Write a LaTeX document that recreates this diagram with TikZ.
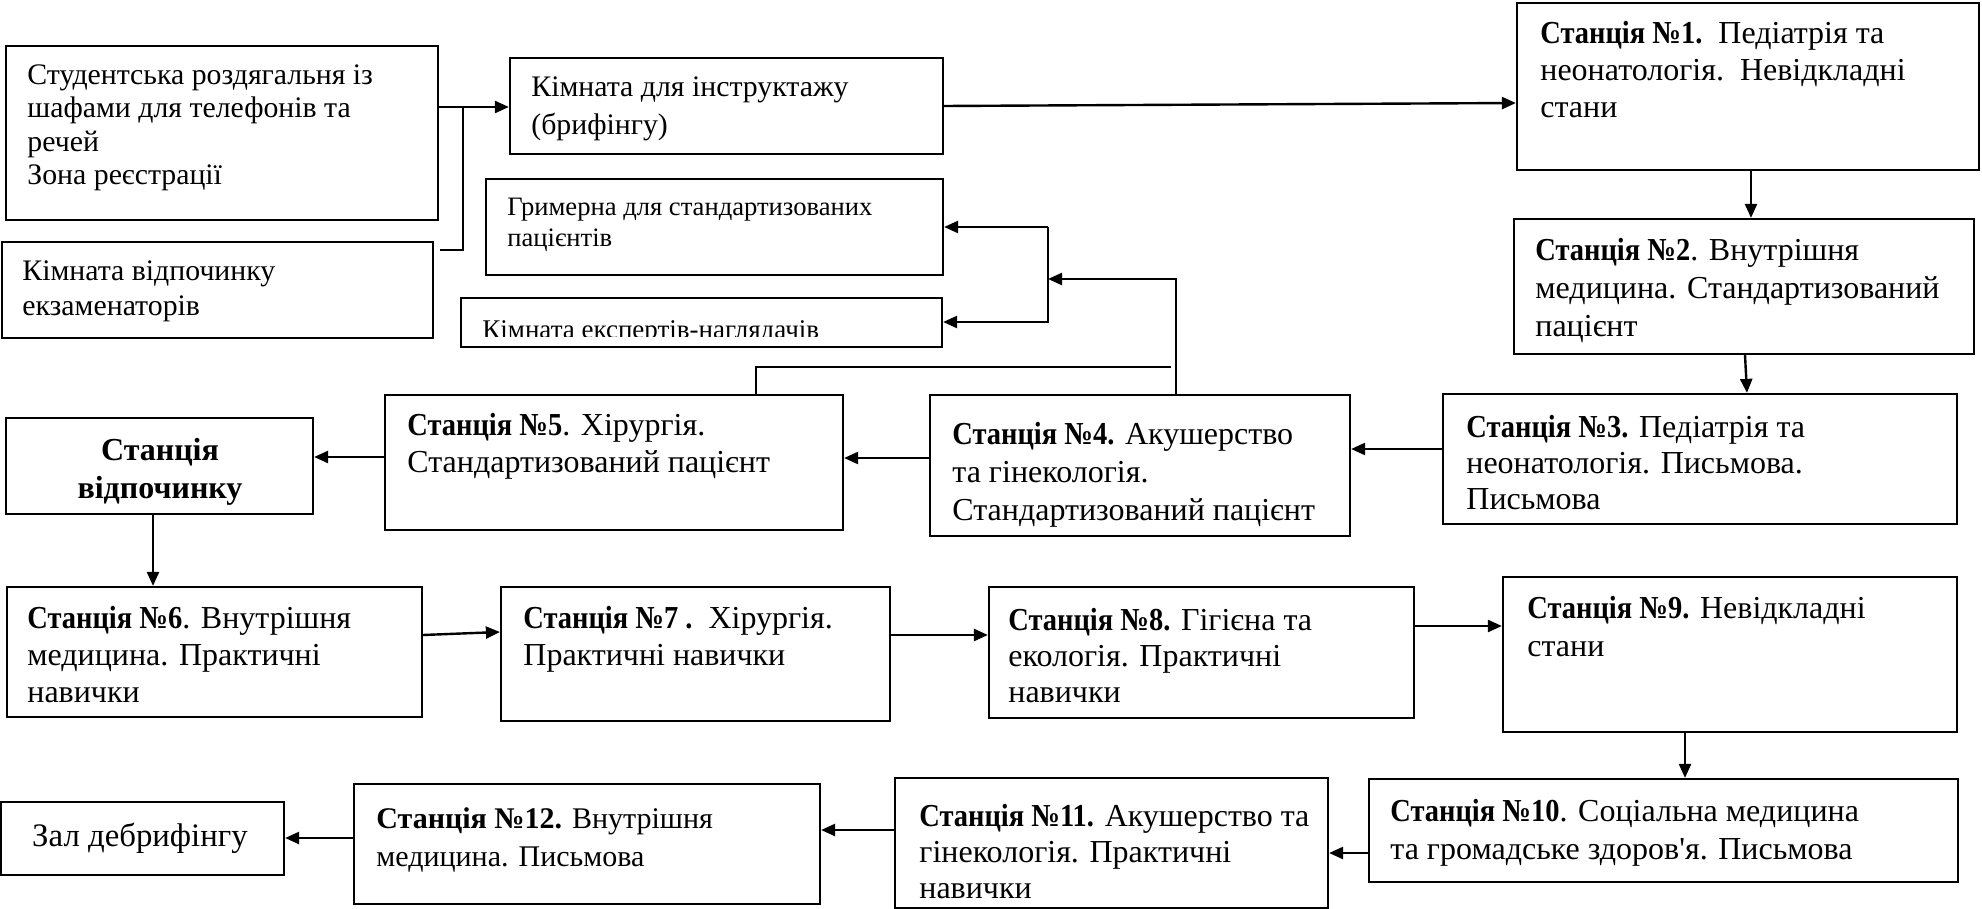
\documentclass[tikz,border=0pt]{standalone}
\usepackage{fontspec}
\setmainfont{Liberation Serif}
\newfontfamily\nbf[FakeStretch=0.89]{Liberation Serif}
\newfontfamily\aposf{Liberation Serif}
\usetikzlibrary{arrows.meta,fit}
\newcommand{\myst}{\rule{0pt}{12pt}}
\newcommand{\stb}[1]{{\nbf\bfseries #1}}
\tikzset{
  box/.style={draw, line width=1.1pt, inner sep=0pt},
  arr/.style={line width=1.2pt, -{Triangle[length=7pt,width=6pt]}},
  ln/.style={line width=1.2pt},
  txt/.style args={#1/#2}{anchor=north west, inner sep=0pt, align=left, font=\fontsize{#1}{#2}\selectfont},
  ctxt/.style args={#1/#2}{anchor=north, inner sep=0pt, align=center, font=\fontsize{#1}{#2}\selectfont}
}
\begin{document}
\begin{tikzpicture}[x=0.5pt,y=-0.5pt]
\useasboundingbox (0,0) rectangle (1982,909);
% top-left rooms
\node[box, fit={(6,46)(438,220)}] (a) {};
\node[txt={14.9pt/16.75pt}] (ta) at (27,60) {\myst Студентська роздягальня із\\шафами для телефонів та\\речей\\Зона реєстрації};
\node[box, fit={(2,242)(433,338)}] (b) {};
\node[txt={14.9pt/17.5pt}] (tb) at (22,256) {\myst Кімната відпочинку\\екзаменаторів};
\node[box, fit={(510,58)(943,154)}] (c) {};
\node[txt={14.9pt/19pt}] (tc) at (531,72) {\myst Кімната для інструктажу\\(брифінгу)};
\node[box, fit={(486,179)(943,275)}] (d) {};
\node[txt={13.3pt/15.5pt}] (td) at (507,191) {\myst Гримерна для стандартизованих\\пацієнтів};
\node[box, fit={(461,298)(942,347)}] (e) {};
\begin{scope}
\clip (461,298) rectangle (942,337);
\node[txt={13.5pt/15.5pt}] (te) at (482,314) {\myst Кімната експертів-наглядачів};
\end{scope}
% stations
\node[box, fit={(1517,3)(1979,170)}] (s1) {};
\node[txt={16pt/18.5pt}] (t1) at (1540,19) {\myst\stb{Станція №1.}\ \ Педіатрія та\\неонатологія.\ \ Невідкладні\\стани};
\node[box, fit={(1514,219)(1974,354)}] (s2) {};
\node[txt={16pt/19pt}] (t2) at (1535,236) {\myst\stb{Станція №2}. Внутрішня\\медицина. Стандартизований\\пацієнт};
\node[box, fit={(1443,394)(1957,524)}] (s3) {};
\node[txt={16pt/18pt}] (t3) at (1466,413) {\myst\stb{Станція №3.} Педіатрія та\\неонатологія. Письмова.\\Письмова};
\node[box, fit={(930,395)(1350,536)}] (s4) {};
\node[txt={16pt/19pt}] (t4) at (952,420) {\myst\stb{Станція №4.} Акушерство\\та гінекологія.\\Стандартизований пацієнт};
\node[box, fit={(385,395)(843,530)}] (s5) {};
\node[txt={16pt/18.5pt}] (t5) at (407,411) {\myst\stb{Станція №5}. Хірургія.\\Стандартизований пацієнт};
\node[box, fit={(6,418)(313,514)}] (r) {};
\node[ctxt={16pt/19pt}] (tr) at (160,436) {\myst\textbf{Станція}\\\textbf{відпочинку}};
\node[box, fit={(7,587)(422,717)}] (s6) {};
\node[txt={16pt/18.5pt}] (t6) at (27,604) {\myst\stb{Станція №6}. Внутрішня\\медицина. Практичні\\навички};
\node[box, fit={(501,587)(890,721)}] (s7) {};
\node[txt={16pt/18.5pt}] (t7) at (523,604) {\myst\stb{Станція №7 .}\ \ Хірургія.\\Практичні навички};
\node[box, fit={(989,587)(1414,718)}] (s8) {};
\node[txt={16pt/18pt}] (t8) at (1008,606) {\myst\stb{Станція №8.} Гігієна та\\екологія. Практичні\\навички};
\node[box, fit={(1503,577)(1957,732)}] (s9) {};
\node[txt={16pt/19pt}] (t9) at (1527,594) {\myst\stb{Станція №9.} Невідкладні\\стани};
\node[box, fit={(1369,779)(1958,882)}] (s10) {};
\node[txt={16pt/19pt}] (t10) at (1390,797) {\myst\stb{Станція №10}. Соціальна медицина\\та громадське здоров{\aposf'}я. Письмова};
\node[box, fit={(895,778)(1328,908)}] (s11) {};
\node[txt={16pt/18pt}] (t11) at (919,802) {\myst\stb{Станція №11.} Акушерство та\\гінекологія. Практичні\\навички};
\node[box, fit={(354,784)(820,904)}] (s12) {};
\node[txt={15pt/19pt}] (t12) at (376,804) {\myst\textbf{Станція №12.} Внутрішня\\медицина. Письмова};
\node[box, fit={(1,802)(284,875)}] (deb) {};
\node[ctxt={16.4pt/16.5pt}] (tdeb) at (140,822) {\myst Зал дебрифінгу};
% junction coordinates
\coordinate (j1) at (463,107);
\coordinate (jtop) at (1048,227);
\coordinate (jbot) at (1048,322);
\coordinate (jb) at (1048,279);
\coordinate (jl) at (1171,367);
% connectors
\draw[arr] (a.east |- j1) -- (c.west |- j1);
\draw[ln] ([xshift=3pt]b.east |- 0,250) -| (j1);
\draw[arr] (c.east |- 0,106) -- (s1.west |- 0,103);
\draw[arr] (1751,0 |- s1.south) -- (1751,0 |- s2.north);
\draw[arr] (1745,0 |- s2.south) -- (1747,0 |- s3.north);
\draw[arr] (s3.west |- 0,449) -- (s4.east |- 0,449);
\draw[arr] (s4.west |- 0,458) -- (s5.east |- 0,458);
\draw[arr] (s5.west |- 0,457) -- (r.east |- 0,457);
\draw[arr] (153,0 |- r.south) -- (153,0 |- s6.north);
\draw[arr] (s6.east |- 0,635) -- (s7.west |- 0,632);
\draw[arr] (s7.east |- 0,635) -- (s8.west |- 0,635);
\draw[arr] (s8.east |- 0,626) -- (s9.west |- 0,626);
\draw[arr] (1685,0 |- s9.south) -- (1685,0 |- s10.north);
\draw[arr] (s10.west |- 0,853) -- (s11.east |- 0,853);
\draw[arr] (s11.west |- 0,830) -- (s12.east |- 0,830);
\draw[arr] (s12.west |- 0,838) -- (deb.east |- 0,838);
\draw[arr] (1176,0 |- s4.north) |- (jb);
\draw[arr] (jtop) -- (d.east |- jtop);
\draw[arr] (jtop) -- (jbot) -- (e.east |- jbot);
\draw[ln] (756,0 |- s5.north) |- (jl);
\end{tikzpicture}
\end{document}
